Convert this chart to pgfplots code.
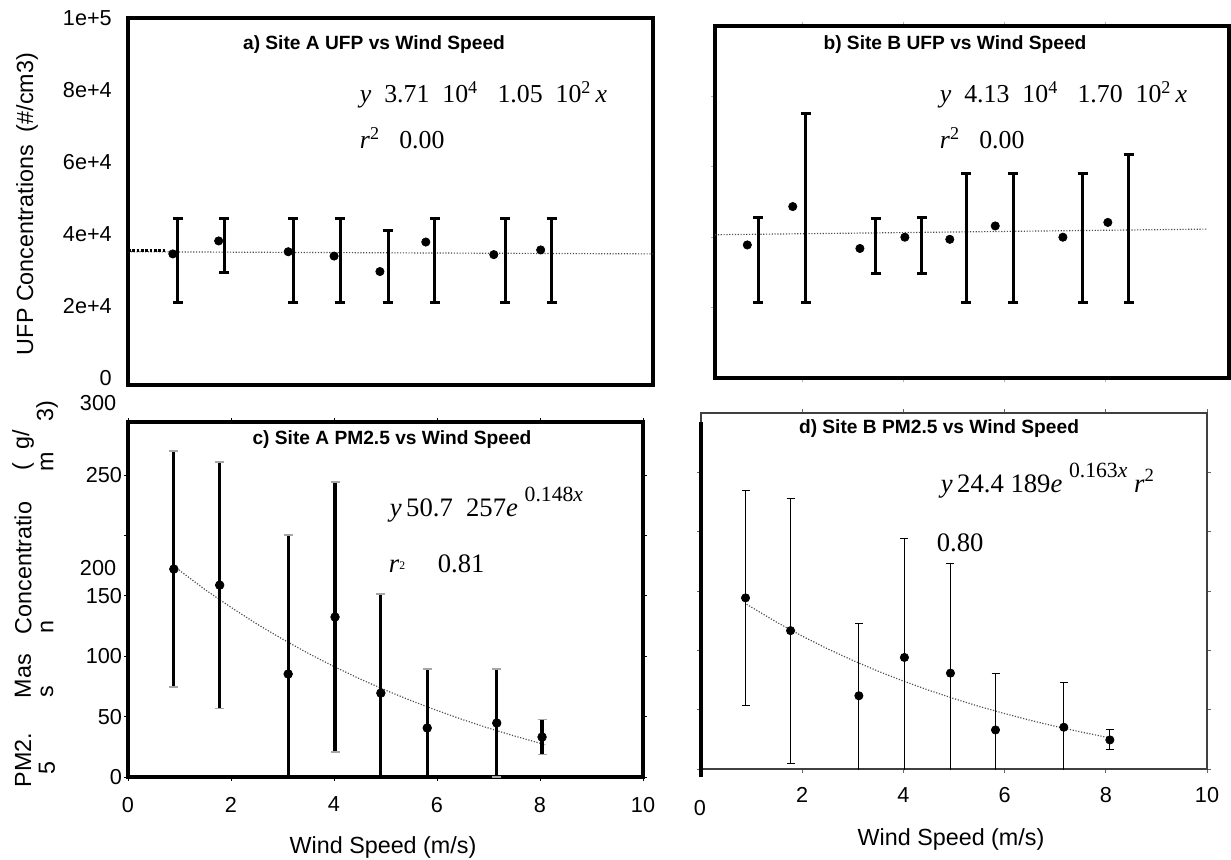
\documentclass[border=0pt]{standalone}
\usepackage{pgfplots}
\pgfplotsset{compat=1.18}
\usepackage{fontspec}
\setmainfont{Liberation Sans}
\newfontfamily\serif{Liberation Serif}
\newcommand{\tickfont}{\fontsize{13}{15}\selectfont}
\newcommand{\eqa}{\serif\fontsize{15.5}{17}\selectfont}
\newcommand{\eqc}{\serif\fontsize{16}{18}\selectfont}
\newcommand{\ttl}{\bfseries\fontsize{11.5}{13}\selectfont}
\newcommand{\lab}{\fontsize{14}{16}\selectfont}
\pgfplotsset{
  panel/.style={
    scale only axis, anchor=north west, clip=true,
    /pgf/number format/assume math mode=true,
    tick label style={font=\tickfont},
    tick align=outside, major tick length=2.4pt,
    tick style={black, line width=0.6pt},
    axis line style={line width=2.4pt, black},
    xtick={2,4,6,8},
    xticklabels={}, yticklabels={},
    scaled y ticks=false, scaled x ticks=false,
  },
  dots/.style={only marks, mark=*, mark size=2.5pt, black, mark options={solid}},
  trend/.style={densely dotted, line width=0.7pt, black!70, mark=none},
  ebthick/.style={draw=none, mark=none, forget plot,
    error bars/.cd, y dir=both, y explicit,
    error bar style={draw=black, line width=1.8pt, solid},
    error mark options={draw=black, line width=1.8pt, mark size=3pt, rotate=90}},
}
\begin{document}
\begin{tikzpicture}
\useasboundingbox (0,0) rectangle (738.6pt,-516pt);
% ---------------- panel a
\begin{axis}[panel, at={(76.8pt,-10.8pt)}, width=315pt, height=220.2pt,
  xmin=0, xmax=10.19, ymin=0, ymax=101900,
  ytick={0,20000,40000,60000,80000,100000},
  yticklabels={0,2e+4,4e+4,6e+4,8e+4,1e+5},
  yticklabel style={xshift=-5pt, yshift=4pt},
  tick align=center]
\addplot[trend] coordinates {(0,37000) (10.19,36400)};
\addplot[densely dotted, line width=1.6pt, black] coordinates {(0,37400) (0.75,37400)};
\addplot[ebthick] coordinates {
 (0.97,34650) +- (0,11650)
 (1.87,38750) +- (0,7550)
 (3.21,34650) +- (0,11650)
 (4.12,34650) +- (0,11650)
 (5.05,32950) +- (0,9950)
 (5.95,34650) +- (0,11650)
 (7.32,34650) +- (0,11650)
 (8.22,34650) +- (0,11650)};
\addplot[dots] coordinates {(0.87,36400) (1.76,40000) (3.11,37000) (4.00,35800)
 (4.89,31500) (5.78,39700) (7.10,36200) (8.01,37500)};
\end{axis}
% ---------------- panel b
\begin{axis}[panel, at={(429pt,-15.6pt)}, width=308.4pt, height=211.2pt,
  xmin=0.26, xmax=10.44, ymin=0, ymax=100000,
  ytick={20000,40000,60000,80000},
  tick style={black!30, line width=0.6pt}]
\addplot[trend] coordinates {(0.26,40700) (10.0,42300)};
\addplot[ebthick] coordinates {
 (1.12,33600) +- (0,12100)
 (2.06,48350) +- (0,26850)
 (3.44,37550) +- (0,7850)
 (4.35,37700) +- (0,8000)
 (5.24,39750) +- (0,18250)
 (6.17,39750) +- (0,18250)
 (7.54,39750) +- (0,18250)
 (8.45,42500) +- (0,21000)};
\addplot[dots] coordinates {(0.90,37800) (1.80,48700) (3.13,36800) (4.02,40000)
 (4.91,39400) (5.81,43200) (7.15,40000) (8.04,44200)};
\end{axis}
% ---------------- panel c
\begin{axis}[panel, at={(76.8pt,-253.2pt)}, width=309pt, height=213pt,
  xmin=0, xmax=10, ymin=0, ymax=294,
  xtick={0,2,4,6,8,10}, xticklabels={0,2,4,6,8,10},
  xticklabel style={yshift=-6pt},
  ytick={0,50,100,150,200,250}, yticklabels={0,50,100,150,,250},
  yticklabel style={inner sep=1pt}]
\addplot[trend] coordinates {(0.9,174.3) (1.5,155.1) (2,140.5) (2.5,126.8) (3,114.2)
 (3.5,102.4) (4,91.5) (4.5,81.3) (5,71.9) (5.5,63.2) (6,55.1) (6.5,47.5) (7,40.5)
 (7.5,34.0) (8,28.0) (8.1,26.8)};
\addplot[dots, mark size=2.6pt,
  error bars/.cd, y dir=both, y explicit,
  error bar style={black, line width=1.9pt, solid},
  error mark options={black!35, line width=0.8pt, mark size=2.7pt, rotate=90}]
 coordinates {
 (0.89,172.2) +- (0,97.7)
 (1.78,158.9) +- (0,101.9)
 (3.11,85.3) +- (0,115)
 (4.02,132.5) +- (0,111.7)
 (4.91,69.5) +- (0,82)
 (5.81,40.6) +- (0,48.8)
 (7.16,44.7) +- (0,44.7)
 (8.04,33.1) +- (0,14.5)};
\end{axis}
% ---------------- panel d
\begin{axis}[panel, at={(420.6pt,-247.8pt)}, width=303.6pt, height=213.6pt,
  xmin=0, xmax=10, ymin=0, ymax=300,
  xtick={2,4,6,8,10}, xticklabels={2,4,6,8,10},
  xticklabel style={yshift=-5pt},
  ytick={0,50,100,150,200,250},
  axis line style={line width=0.7pt, black!75},
  tick style={black!60, line width=0.5pt}]
\addplot[trend] coordinates {(0.9,138.8) (1.5,123.6) (2,112.0) (2.5,101.3) (3,91.5)
 (3.5,82.4) (4,74.1) (4.5,66.4) (5,59.3) (5.5,52.7) (6,46.7) (6.5,41.1) (7,36.0)
 (7.5,31.3) (8,26.9) (8.1,26.1)};
\addplot[dots,
  error bars/.cd, y dir=both, y explicit,
  error bar style={black, line width=0.6pt, solid},
  error mark options={black, line width=0.6pt, mark size=2.4pt, rotate=90}]
 coordinates {
 (0.88,144.2) +- (0,90.5)
 (1.77,116.6) +- (0,111.6)
 (3.12,61.7) += (0,60.5) -= (0,64)
 (4.02,94.0) +- (0,100)
 (4.93,80.8) +- (0,92.3)
 (5.82,32.9) +- (0,47.9)
 (7.17,35.2) += (0,37.4) -= (0,39)
 (8.08,24.5) +- (0,8.45)};
\end{axis}
% ---------------- text and frame extras (pixel coordinates)
\begin{scope}[x=0.6pt,y=-0.6pt]
\draw[line width=2.4pt] (701,422) -- (701,777);
% titles
\node at (374,45) {\ttl a) Site A UFP vs Wind Speed};
\node at (955,45) {\ttl b) Site B UFP vs Wind Speed};
\node at (392,440) {\ttl c) Site A PM2.5 vs Wind Speed};
\node at (939,429) {\ttl d) Site B PM2.5 vs Wind Speed};
% equations
\node[anchor=west] at (354,95) {\eqa\textit{y}\ \ 3.71\ \ 10\textsuperscript{4}\ \ \ 1.05\ \ 10\textsuperscript{2}\,\textit{x}};
\node[anchor=west] at (354,138) {\eqa\textit{r}\textsuperscript{2}\ \ \ 0.00};
\node[anchor=west] at (934,95) {\eqa\textit{y}\ \ 4.13\ \ 10\textsuperscript{4}\ \ \ 1.70\ \ 10\textsuperscript{2}\,\textit{x}};
\node[anchor=west] at (934,138) {\eqa\textit{r}\textsuperscript{2}\ \ \ 0.00};
\node[anchor=base west] at (384,516) {\eqc\textit{y}\,50.7\ \ 257\textit{e}\ \raisebox{0.55em}{\fontsize{13}{13}\selectfont 0.148\textit{x}}};
\node[anchor=base west] at (383,572) {\eqc\textit{r}{\fontsize{7}{7}\selectfont\raisebox{0.2em}{2}}};
\node[anchor=base west] at (432,572) {\eqc 0.81};
\node[anchor=base west] at (935,492) {\eqc\textit{y}\,24.4\ 189\textit{e}\ \raisebox{0.55em}{\fontsize{13}{13}\selectfont 0.163\textit{x}}\ \textit{r}\textsuperscript{2}};
\node[anchor=base west] at (931,551) {\eqc 0.80};
% axis labels
\node[rotate=90] at (27,204) {\lab UFP Concentrations\ \ (\#/cm3)};
\node at (383,847) {\lab Wind Speed (m/s)};
\node at (951,839) {\lab Wind Speed (m/s)};
% garbled PM2.5 label
\node[rotate=90] at (23,760) {\lab PM2.};
\node[rotate=90] at (23,676) {\lab Mas};
\node[rotate=90] at (23,568) {\lab Concentratio};
\node[rotate=90] at (23,450) {\lab (\ \ g/};
\node[rotate=90] at (47,768) {\lab 5};
\node[rotate=90] at (47,692) {\lab s};
\node[rotate=90] at (47,627) {\lab n};
\node[rotate=90] at (47,462) {\lab m};
\node[rotate=90] at (47,411) {\lab 3)};
% extra tick labels
\node[anchor=east] at (122,403) {\tickfont 300};
\node[anchor=east] at (122,568) {\tickfont 200};
\node at (700,808) {\tickfont 0};
\end{scope}
\end{tikzpicture}
\end{document}
